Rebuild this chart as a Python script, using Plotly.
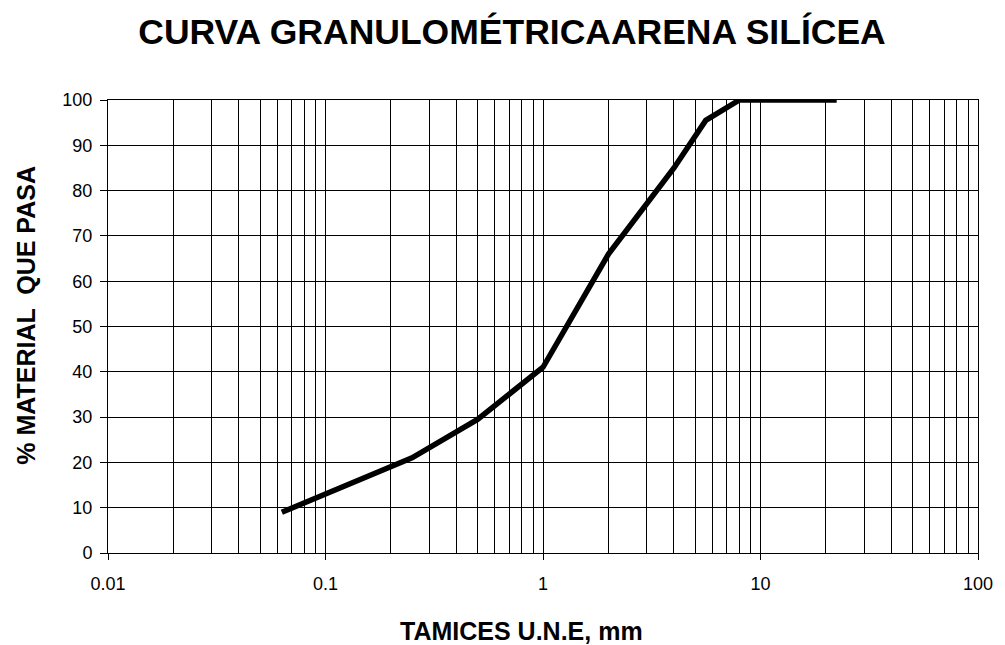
import plotly.graph_objects as go

# Data
sieve_mm = [0.063, 0.125, 0.25, 0.5, 1, 2, 4, 5.6, 8, 22.4]
pct_passing = [9, 15, 21, 29.5, 41, 66, 85, 95.5, 100, 100]

x_tickvals = [0.01, 0.1, 1, 10, 100]
x_ticktext = ["0.01", "0.1", "1", "10", "100"]
minor_grid = [k * 10 ** e for e in range(-2, 2) for k in range(2, 10)]

title_text = "CURVA GRANULOMÉTRICAARENA SILÍCEA"
x_title = "TAMICES U.N.E, mm"
y_title = "% MATERIAL  QUE PASA"

FONT = "Liberation Sans, Arial, sans-serif"

fig = go.Figure()
fig.add_trace(go.Scatter(
    x=sieve_mm, y=pct_passing, mode="lines",
    line=dict(color="black", width=5.5),
    showlegend=False, hoverinfo="x+y",
))

fig.update_layout(
    width=1005, height=645,
    margin=dict(l=108, r=20, t=100, b=92),
    paper_bgcolor="white", plot_bgcolor="white",
    font=dict(family=FONT, color="black", size=18),
    title=dict(text=f"<b>{title_text}</b>", x=512 / 1005, xref="container", xanchor="center",
               y=1 - 32 / 645, yref="container", yanchor="middle",
               font=dict(family=FONT, size=35.5, color="black")),
    xaxis=dict(
        type="log", range=[-2, 2],
        tickmode="array", tickvals=x_tickvals, ticktext=x_ticktext,
        ticks="outside", ticklen=6, tickcolor="black", tickwidth=1,
        ticklabelstandoff=8,
        showgrid=True, gridcolor="black", gridwidth=1,
        showline=True, linecolor="black", linewidth=1, mirror=True,
        zeroline=False,
        tickfont=dict(family=FONT, size=18, color="black"),
        minor=dict(tickmode="array", tickvals=minor_grid, showgrid=True,
                   gridcolor="black", gridwidth=1, ticks=""),
    ),
    yaxis=dict(
        range=[0, 100], dtick=10, tick0=0,
        ticks="outside", ticklen=7, tickcolor="black", tickwidth=1,
        ticklabelstandoff=4,
        showgrid=True, gridcolor="black", gridwidth=1,
        showline=True, linecolor="black", linewidth=1, mirror=True,
        zeroline=False,
        tickfont=dict(family=FONT, size=18, color="black"),
    ),
    annotations=[
        dict(text=f"<b>{x_title}</b>", xref="paper", yref="paper",
             x=(525 - 108) / 877, y=-(631 - 553) / 453,
             xanchor="center", yanchor="middle", showarrow=False,
             font=dict(family=FONT, size=25, color="black")),
        dict(text=f"<b>{y_title}</b>", xref="paper", yref="paper",
             x=-(108 - 25) / 877, y=(553 - 315) / 453, textangle=-90,
             xanchor="center", yanchor="middle", showarrow=False,
             font=dict(family=FONT, size=25, color="black")),
    ],
)

fig.write_html("out.html")
